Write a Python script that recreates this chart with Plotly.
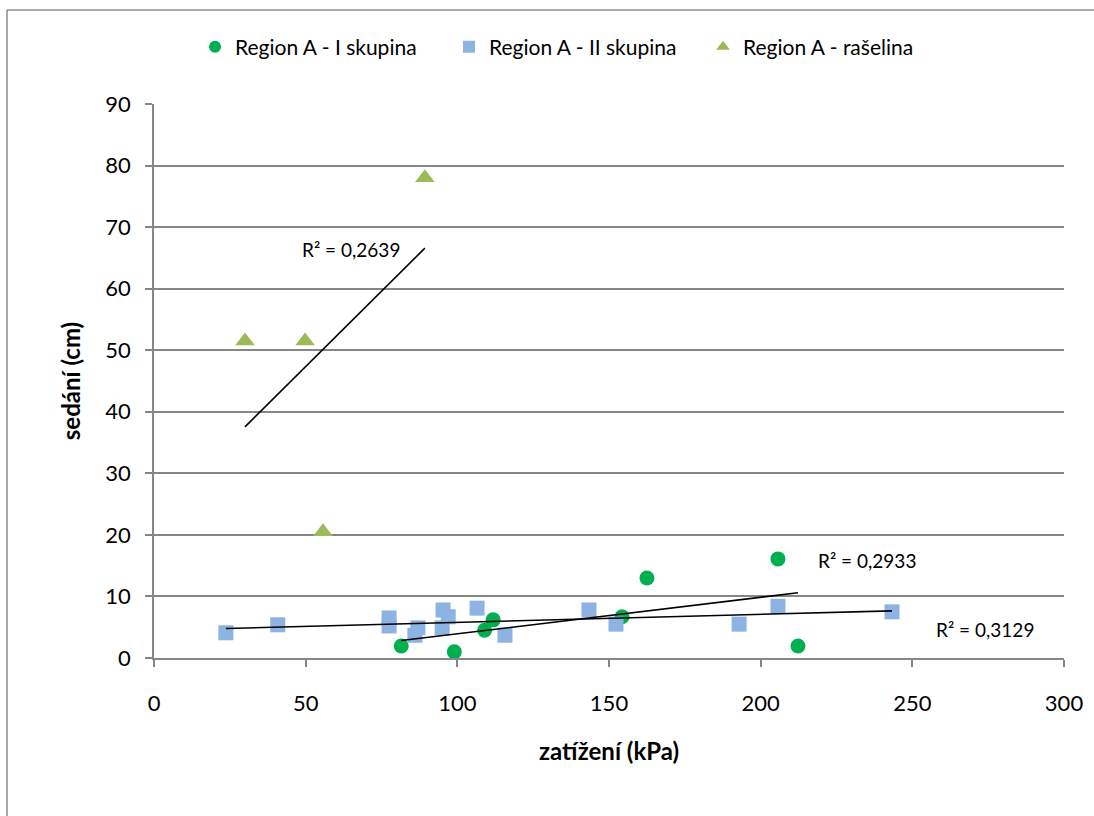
import numpy as np
import plotly.graph_objects as go

# Region A - I skupina
x_I = [81.5, 99, 109, 111.8, 154.3, 162.5, 205.7, 212.3]
y_I = [1.95, 1.0, 4.5, 6.2, 6.7, 13.0, 16.1, 1.95]

# Region A - II skupina
x_II = [23.7, 40.8, 77.5, 77.5, 87, 86, 95.3, 97, 95, 106.5, 115.7, 143.4, 152.3, 192.9, 205.7, 243.3]
y_II = [4.1, 5.4, 6.5, 5.2, 4.9, 3.7, 7.8, 6.7, 4.9, 8.1, 3.7, 7.8, 5.5, 5.5, 8.4, 7.5]

# Region A - rašelina
x_R = [30, 49.8, 55.7, 89.3]
y_R = [51.5, 51.5, 20.5, 78]

r2_labels = ["R² = 0,2933", "R² = 0,3129", "R² = 0,2639"]
r2_pos = [(235, 15.9), (274, 4.55), (65, 66.3)]

x_ticks = [0, 50, 100, 150, 200, 250, 300]
y_ticks = [0, 10, 20, 30, 40, 50, 60, 70, 80, 90]

FONT = "Lato"
GRID = "#868686"

# plot area: x 154..1064, y 104..658 (page px); body margin removed below
L, R_, T, B = 154, 1064, 104, 658
W, H = 1094, 816
PW, PH = R_ - L, B - T

fig = go.Figure()

series = [
    ("Region A - I skupina", x_I, y_I, "circle", "#00B050", 15),
    ("Region A - II skupina", x_II, y_II, "square", "#8DB3E2", 15),
    ("Region A - rašelina", x_R, y_R, "triangle-up", "#9BBB59", 17),
]

for name, xs, ys, sym, col, sz in series:
    fig.add_trace(go.Scatter(
        x=xs, y=ys, mode="markers", name=name,
        marker=dict(symbol=sym, color=col, size=sz, line=dict(width=0)),
    ))

for name, xs, ys, sym, col, sz in series:
    k, b = np.polyfit(xs, ys, 1)
    xl = [min(xs), max(xs)]
    fig.add_trace(go.Scatter(
        x=xl, y=[k * v + b for v in xl], mode="lines", showlegend=False,
        line=dict(color="black", width=1.6), hoverinfo="skip",
    ))

for txt, (ax, ay) in zip(r2_labels, r2_pos):
    fig.add_annotation(x=ax, y=ay, xref="x", yref="y", text=txt, showarrow=False,
                       font=dict(family=FONT, size=19, color="#000000"))

# chart border: left and top edges at page x=7, y=10; others beyond the picture
bx0 = (7 - L) / PW
by1 = (B - 10) / PH
fig.add_shape(type="line", xref="paper", yref="paper", x0=bx0, x1=bx0, y0=-(H - B) / PH, y1=by1,
              line=dict(color="#8c8c8c", width=1.5), layer="below")
fig.add_shape(type="line", xref="paper", yref="paper", x0=bx0, x1=(W - L) / PW, y0=by1, y1=by1,
              line=dict(color="#8c8c8c", width=1.5), layer="below")

fig.update_layout(
    width=W, height=H,
    margin=dict(l=L, r=W - R_, t=T, b=H - B, autoexpand=False),
    paper_bgcolor="white", plot_bgcolor="white",
    font=dict(family=FONT, size=22, color="#000000"),
    legend=dict(orientation="h", x=(195 - L) / PW, xanchor="left", y=(B - 47) / PH, yanchor="middle",
                font=dict(family=FONT, size=21), itemsizing="constant", tracegroupgap=0,
                itemwidth=30, entrywidth=209, entrywidthmode="pixels"),
    showlegend=True,
)

fig.update_xaxes(
    range=[0, 300], tickvals=x_ticks, ticks="outside", ticklen=7, tickcolor=GRID, tickwidth=1.5,
    showline=True, linecolor=GRID, linewidth=1.5, showgrid=False, zeroline=False, automargin=False,
    ticklabelstandoff=18, tickfont=dict(family=FONT, size=22),
    title=dict(text="<b>zatížení (kPa)</b>", font=dict(family=FONT, size=24), standoff=28),
)
fig.update_yaxes(
    range=[0, 90], tickvals=y_ticks, ticks="outside", ticklen=7, tickcolor=GRID, tickwidth=1.5,
    showline=True, linecolor=GRID, linewidth=1.5, showgrid=True, gridcolor=GRID, gridwidth=1.5,
    zeroline=False, ticklabelstandoff=10, tickfont=dict(family=FONT, size=22), automargin=False,
    title=dict(text="<b>sedání (cm)</b>", font=dict(family=FONT, size=24), standoff=18),
)

fig.write_html("out.html", config={"displayModeBar": False},
               post_script="document.body.style.margin='0';")
